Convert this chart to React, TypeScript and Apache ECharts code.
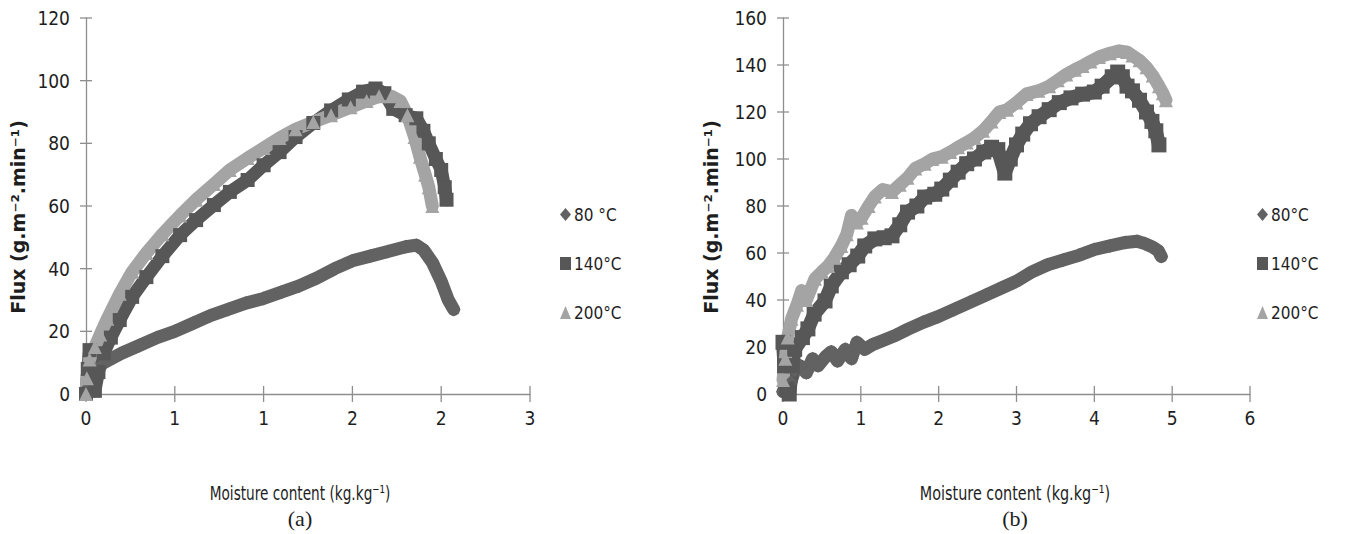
import React, { useEffect, useRef } from "react";
import * as echarts from "echarts";

// ---- Panel (a): flux vs. moisture content, [moisture, flux] ----
const flux80A: [number, number][] = [
  [0.0, 0], [0.01, 2], [0.03, 5], [0.06, 8], [0.1, 10], [0.15, 11.5], [0.2, 13], [0.3, 15.5],
  [0.4, 18], [0.5, 20], [0.6, 22.5], [0.7, 25], [0.8, 27], [0.9, 29], [1.0, 30.5], [1.1, 32.5],
  [1.2, 34.5], [1.3, 37], [1.4, 40], [1.5, 42.5], [1.6, 44], [1.7, 45.5], [1.8, 47], [1.86, 47.5],
  [1.9, 46], [1.95, 42], [2.0, 36], [2.04, 30], [2.07, 27],
];
const flux140A: [number, number][] = [
  [0.0, 0], [0.01, 8], [0.02, 14], [0.03, 5], [0.05, 1], [0.07, 7], [0.1, 13], [0.14, 18],
  [0.19, 23.6], [0.26, 31], [0.34, 37.3], [0.43, 44], [0.53, 50.7], [0.62, 55.5], [0.72, 60.3],
  [0.81, 64.5], [0.91, 68.3], [1.0, 73], [1.09, 77.2], [1.18, 82], [1.28, 86.5], [1.38, 90.5],
  [1.48, 94], [1.56, 96.5], [1.63, 97.5], [1.68, 96], [1.73, 91], [1.8, 89], [1.86, 88],
  [1.9, 84], [1.93, 80], [1.97, 75], [2.0, 71.5], [2.02, 66], [2.03, 62],
];
const flux200A: [number, number][] = [
  [0.0, 0], [0.005, 5], [0.02, 11], [0.05, 15], [0.08, 19], [0.12, 24], [0.19, 32], [0.26, 39],
  [0.34, 45], [0.43, 51], [0.53, 57], [0.62, 62], [0.72, 67], [0.81, 71.5], [0.91, 75.3],
  [1.0, 78.5], [1.09, 81.7], [1.18, 84.5], [1.28, 86.8], [1.38, 89], [1.49, 91.5], [1.58, 93.5],
  [1.65, 95], [1.72, 95], [1.77, 93.5], [1.81, 89], [1.85, 82], [1.88, 75.7], [1.91, 70],
  [1.93, 66], [1.95, 60],
];

// ---- Panel (b) ----
const flux80B: [number, number][] = [
  [0.0, 1], [0.03, 3], [0.06, 0], [0.1, 5], [0.15, 10], [0.22, 12], [0.3, 9], [0.38, 15],
  [0.45, 12], [0.55, 16], [0.62, 18], [0.7, 14], [0.8, 19], [0.88, 15], [0.95, 22], [1.05, 19],
  [1.15, 21], [1.3, 23], [1.45, 25], [1.6, 27.5], [1.8, 30.5], [2.0, 33], [2.2, 36], [2.4, 39],
  [2.6, 42], [2.8, 45], [3.0, 48], [3.2, 52], [3.4, 55], [3.6, 57], [3.8, 59], [4.0, 61.5],
  [4.2, 63], [4.4, 64.5], [4.55, 65], [4.65, 64], [4.75, 62.5], [4.82, 61], [4.86, 58.5],
];
const flux140B: [number, number][] = [
  [0.0, 22], [0.02, 12], [0.05, 2], [0.08, 0], [0.12, 12], [0.15, 19], [0.25, 24], [0.32, 27.7],
  [0.4, 34], [0.54, 39.6], [0.62, 46], [0.75, 52], [0.85, 55], [0.96, 58.7], [1.05, 63],
  [1.18, 66], [1.3, 66.5], [1.4, 67.3], [1.5, 72], [1.6, 77.4], [1.72, 80], [1.82, 83.8],
  [1.95, 85], [2.04, 87.2], [2.15, 91], [2.25, 94.4], [2.36, 98], [2.46, 100], [2.58, 103],
  [2.68, 105], [2.76, 104], [2.85, 94], [2.92, 100], [3.0, 106], [3.08, 110.6], [3.18, 115],
  [3.29, 118], [3.42, 121], [3.55, 124], [3.7, 126], [3.85, 127.6], [4.0, 128.5], [4.1, 131],
  [4.23, 135], [4.3, 137], [4.36, 135], [4.42, 131], [4.49, 129], [4.58, 125], [4.67, 120],
  [4.74, 116], [4.79, 112], [4.83, 106],
];
const flux200B: [number, number][] = [
  [0.0, 6], [0.03, 15], [0.06, 24], [0.11, 32], [0.18, 38], [0.24, 44], [0.3, 40], [0.41, 49],
  [0.5, 52], [0.58, 54.5], [0.66, 58], [0.75, 63], [0.82, 68], [0.88, 76], [0.95, 73],
  [1.01, 75], [1.1, 80], [1.18, 84], [1.28, 87], [1.4, 86], [1.5, 89], [1.6, 92], [1.7, 96],
  [1.82, 98], [1.92, 100], [2.04, 101], [2.15, 103], [2.25, 105], [2.36, 107], [2.46, 109],
  [2.57, 112], [2.68, 116], [2.78, 120], [2.88, 121], [3.0, 124], [3.13, 127.7], [3.28, 129],
  [3.42, 131], [3.53, 133.5], [3.64, 136], [3.75, 138], [3.85, 139.6], [3.95, 141.5],
  [4.06, 143.4], [4.2, 145], [4.32, 146], [4.42, 145.5], [4.49, 144], [4.58, 142], [4.67, 139],
  [4.75, 135.5], [4.83, 131], [4.88, 128], [4.92, 125],
];

// Axis ticks and their printed labels
const xTicksA = [0, 0.5, 1, 1.5, 2, 2.5];
const xTickLabelsA = ["0", "1", "1", "2", "2", "3"];
const xTicksB = [0, 1, 2, 3, 4, 5, 6];
const yTicksA = [0, 20, 40, 60, 80, 100, 120];
const yTicksB = [0, 20, 40, 60, 80, 100, 120, 140, 160];

const legendA = ["80 °C", "140°C", "200°C"];
const legendB = ["80°C", "140°C", "200°C"];

const NARROW = "'DejaVu Sans Condensed', 'Liberation Sans', sans-serif";
const AXIS_GRAY = "#8e8e8e";
const C80 = "#626262";
const C140 = "#575757";
const C200 = "#a4a4a4";
const X_TICK = 8;
const Y_TICK = 6;

function band(name: string, data: [number, number][], symbol: string, color: string, size: number, axisIdx: number) {
  return {
    type: "line",
    name,
    data,
    xAxisIndex: axisIdx,
    yAxisIndex: axisIdx,
    symbol,
    symbolSize: size,
    showSymbol: true,
    showAllSymbol: true,
    clip: false,
    lineStyle: { color, width: size - 1, join: "round", cap: "round" },
    itemStyle: { color, borderWidth: 0 },
    emphasis: { disabled: true },
  };
}

function valueAxis(gridIndex: number, ticks: number[], interval: number, labels: (v: number) => string, isX: boolean) {
  return {
    type: "value",
    gridIndex,
    position: isX ? "bottom" : "left",
    min: ticks[0],
    max: ticks[ticks.length - 1],
    interval,
    axisLine: { show: true, onZero: false, lineStyle: { color: AXIS_GRAY, width: 1.3 } },
    axisTick: { show: false },
    axisLabel: {
      show: true,
      formatter: labels,
      color: "#1e1e1e",
      fontFamily: NARROW,
      fontSize: 19,
      margin: isX ? 14 : 16,
    },
    splitLine: { show: false },
  };
}

// Tick marks that cross the axis line, placed through the axis scale
function crossTicks(name: string, ticks: number[], axisIdx: number, isX: boolean, xMin: number, yMin: number) {
  const len = isX ? X_TICK : Y_TICK;
  return {
    type: "custom",
    name,
    xAxisIndex: axisIdx,
    yAxisIndex: axisIdx,
    silent: true,
    clip: false,
    z: 1,
    data: ticks.map((t) => (isX ? [t, yMin] : [xMin, t])),
    renderItem: (_params: any, api: any) => {
      const p = api.coord([api.value(0), api.value(1)]);
      const shape = isX
        ? { x1: p[0], y1: p[1] - len, x2: p[0], y2: p[1] + len }
        : { x1: p[0] - len, y1: p[1], x2: p[0] + len, y2: p[1] };
      return { type: "line", shape, style: { stroke: AXIS_GRAY, lineWidth: 1.3 } };
    },
  };
}

function legendBlock(names: string[], left: number) {
  const icons = ["diamond", "rect", "triangle"];
  return {
    orient: "vertical",
    left,
    top: 204,
    padding: 0,
    itemWidth: 11,
    itemHeight: 13,
    itemGap: 28,
    selectedMode: false,
    data: names.map((n, i) => ({ name: n, icon: icons[i] })),
    textStyle: { fontFamily: NARROW, fontSize: 17, color: "#1e1e1e", lineHeight: 21, padding: [0, 0, 0, -2] },
  };
}

function label(text: string, x: number, y: number, font: string, rotation = 0, scaleX = 1) {
  return {
    type: "text",
    x,
    y,
    rotation,
    scaleX,
    style: {
      text,
      font,
      fill: "#1e1e1e",
      align: "center",
      verticalAlign: "middle",
      textAlign: "center",
      textVerticalAlign: "middle",
    },
  };
}

export default function App() {
  const ref = useRef<HTMLDivElement>(null);

  useEffect(() => {
    if (!ref.current) return;
    const chart = echarts.init(ref.current, null, { renderer: "svg" });
    const fmtA = (v: number) => {
      const i = xTicksA.findIndex((t) => Math.abs(t - v) < 1e-9);
      return i >= 0 ? xTickLabelsA[i] : "";
    };
    const fmtPlain = (v: number) => String(v);
    const yTitle = "Flux (g.m\u207B\u00B2.min\u207B\u00B9)";
    const xTitle = "Moisture content (kg.kg\u207B\u00B9)";
    const titleFont = "bold 19px 'DejaVu Sans', sans-serif";
    const xTitleFont = `20px ${NARROW}`;
    const capFont = "22px 'Liberation Serif', 'Times New Roman', serif";

    chart.setOption({
      animation: false,
      backgroundColor: "#ffffff",
      grid: [
        { left: 86, top: 18, width: 444, height: 376 },
        { left: 783, top: 18, width: 467, height: 376 },
      ],
      xAxis: [valueAxis(0, xTicksA, 0.5, fmtA, true), valueAxis(1, xTicksB, 1, fmtPlain, true)],
      yAxis: [valueAxis(0, yTicksA, 20, fmtPlain, false), valueAxis(1, yTicksB, 20, fmtPlain, false)],
      legend: [legendBlock(legendA, 560), legendBlock(legendB, 1257)],
      series: [
        crossTicks("xTicksA", xTicksA, 0, true, xTicksA[0], yTicksA[0]),
        crossTicks("yTicksA", yTicksA, 0, false, xTicksA[0], yTicksA[0]),
        crossTicks("xTicksB", xTicksB, 1, true, xTicksB[0], yTicksB[0]),
        crossTicks("yTicksB", yTicksB, 1, false, xTicksB[0], yTicksB[0]),
        band(legendA[0], flux80A, "diamond", C80, 14, 0),
        band(legendA[1], flux140A, "rect", C140, 14, 0),
        band(legendA[2], flux200A, "triangle", C200, 14, 0),
        band(legendB[0], flux80B, "diamond", C80, 14, 1),
        band(legendB[1], flux140B, "rect", C140, 15, 1),
        band(legendB[2], flux200B, "triangle", C200, 14, 1),
      ],
      graphic: [
        label(yTitle, 18, 217, titleFont, Math.PI / 2, 1),
        label(yTitle, 711, 217, titleFont, Math.PI / 2, 1),
        label(xTitle, 300, 493, xTitleFont, 0, 0.76),
        label(xTitle, 1015, 493, xTitleFont, 0, 0.8),
        label("(a)", 300, 518, capFont),
        label("(b)", 1015, 518, capFont),
      ],
    });
    return () => chart.dispose();
  }, []);

  return (
    <div
      ref={ref}
      style={{ position: "fixed", left: 0, top: 0, width: 1364, height: 534, background: "#ffffff" }}
    />
  );
}
